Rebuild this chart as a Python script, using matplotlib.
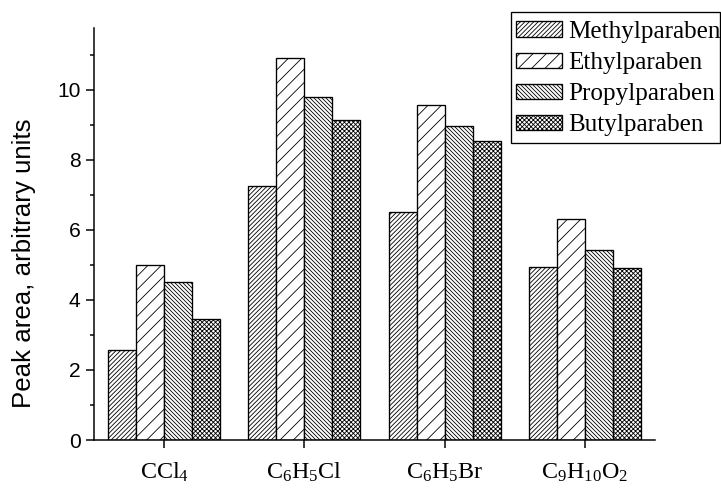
import numpy as np
import matplotlib
matplotlib.use("Agg")
import matplotlib.pyplot as plt
from matplotlib.patches import Rectangle
from matplotlib.ticker import MultipleLocator

# Solvents (x categories) and paraben peak areas
solvents = [r"$\mathrm{CCl_4}$", r"$\mathrm{C_6H_5Cl}$",
            r"$\mathrm{C_6H_5Br}$", r"$\mathrm{C_9H_{10}O_2}$"]
series_names = ["Methylparaben", "Ethylparaben", "Propylparaben", "Butylparaben"]
methyl = [2.57, 7.26, 6.50, 4.94]
ethyl = [4.99, 10.90, 9.57, 6.31]
propyl = [4.50, 9.81, 8.97, 5.42]
butyl = [3.45, 9.13, 8.55, 4.91]

DPI = 120
plt.rcParams["hatch.linewidth"] = 0.5
plt.rcParams["mathtext.fontset"] = "custom"
plt.rcParams["mathtext.rm"] = "Liberation Serif"
plt.rcParams["mathtext.it"] = "Liberation Serif:italic"
plt.rcParams["mathtext.bf"] = "Liberation Serif:bold"

fig = plt.figure(figsize=(721 / DPI, 499 / DPI), dpi=DPI)
W, H = 721, 499
ax = fig.add_axes([94 / W, (H - 440) / H, (655 - 94) / W, (440 - 28) / H])

x = np.arange(1, len(solvents) + 1)
width = 0.2
hatches = ["/" * 9, "///", "\\" * 10, "x" * 9]
data = [methyl, ethyl, propyl, butyl]
for i, (vals, name, h) in enumerate(zip(data, series_names, hatches)):
    ax.bar(x + (i - 1.5) * width, vals, width, facecolor="white",
           edgecolor="black", linewidth=0.8, hatch=h, label=name, zorder=2)

ax.set_xlim(0.5, 4.5)
ax.set_ylim(0, 11.77)
ax.set_xticks(x)
ax.set_xticklabels(solvents, fontsize=14.4)
ax.yaxis.set_major_locator(MultipleLocator(2))
ax.yaxis.set_minor_locator(MultipleLocator(1))
ax.tick_params(axis="y", which="major", direction="out", length=5, width=0.9,
               labelsize=12.6, pad=3)
ax.tick_params(axis="y", which="minor", direction="out", length=2.5, width=0.9)
ax.tick_params(axis="x", which="major", direction="out", length=5, width=0.9, pad=7)
for lab in ax.get_yticklabels():
    lab.set_fontfamily("Liberation Sans")

for side in ("top", "right"):
    ax.spines[side].set_visible(False)
for side in ("left", "bottom"):
    ax.spines[side].set_linewidth(0.9)

ax.set_ylabel("Peak area, arbitrary units", fontsize=15.5,
              fontfamily="Liberation Sans", labelpad=4)
ax.yaxis.set_label_coords(-0.104, 0.43)

# Legend entries without their own frame; the box is drawn separately
leg = fig.legend(loc="upper left", bbox_to_anchor=(516 / W, 1 - 21 / H),
                 prop={"family": "Liberation Serif", "size": 15.1},
                 frameon=False,
                 handlelength=1.83, handleheight=0.56, handletextpad=0.25,
                 labelspacing=0.36, borderpad=0.0, borderaxespad=0.0)
fig.patches.append(Rectangle((511 / W, 1 - 143 / H), (720 - 511) / W, (143 - 12) / H,
                             transform=fig.transFigure, facecolor="none",
                             edgecolor="black", linewidth=0.8))

fig.savefig("out.png", dpi=DPI)
